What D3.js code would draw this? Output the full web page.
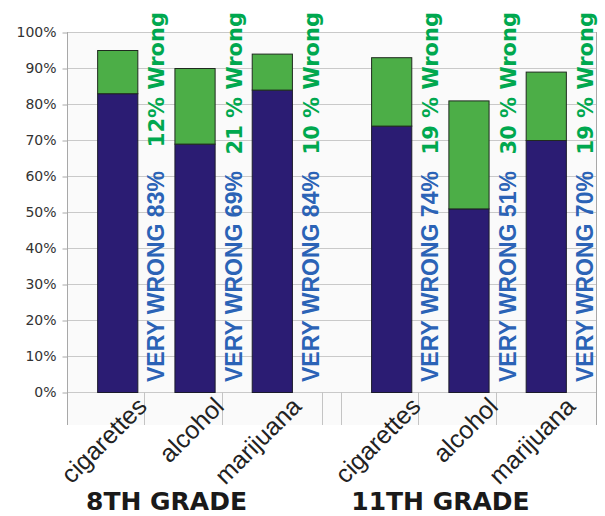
<!DOCTYPE html>
<html>
<head>
<meta charset="utf-8">
<script src="https://cdn.jsdelivr.net/npm/d3@7"></script>
<style>
  html, body { margin: 0; padding: 0; background: #ffffff; }
  svg { display: block; }
</style>
</head>
<body>
<svg id="chart" width="605" height="516"></svg>
<script>
// Share of students rating each substance as wrong, stacked by degree.
const grades = ["8TH GRADE", "11TH GRADE"];
const substances = ["cigarettes", "alcohol", "marijuana"];
const veryWrong8 = [83, 69, 84];
const wrong8 = [12, 21, 10];
const veryWrong11 = [74, 51, 70];
const wrong11 = [19, 30, 19];
// spacing used between the number and "%" in the "Wrong" labels
const wrongGap8 = ["", " ", " "];
const wrongGap11 = [" ", " ", " "];
const yTicks = [0, 10, 20, 30, 40, 50, 60, 70, 80, 90, 100];

const rows = [];
grades.forEach((g, gi) => {
  const vw = gi === 0 ? veryWrong8 : veryWrong11;
  const w = gi === 0 ? wrong8 : wrong11;
  const gap = gi === 0 ? wrongGap8 : wrongGap11;
  substances.forEach((s, si) => {
    rows.push({ grade: g, substance: s, veryWrong: vw[si], wrong: w[si], gap: gap[si] });
  });
});

const svg = d3.select("#chart");
const plot = { left: 67, right: 596, top: 32, bottom: 392, axisFoot: 425 };

const y = d3.scaleLinear().domain([0, 100]).range([plot.bottom, plot.top]);
const xGroup = d3.scaleBand().domain(grades).range([plot.left, plot.right])
  .paddingInner(0.069).paddingOuter(0);
const xSub = d3.scaleBand().domain(substances).range([0, xGroup.bandwidth()])
  .paddingInner(0.48).paddingOuter(0.39);

const barX = d => xGroup(d.grade) + xSub(d.substance);
const bw = xSub.bandwidth();

// plot background
svg.append("rect")
  .attr("x", plot.left).attr("y", plot.top)
  .attr("width", plot.right - plot.left).attr("height", plot.axisFoot - plot.top)
  .attr("fill", "#fafafa");

// horizontal gridlines
svg.append("g").selectAll("line").data(yTicks).join("line")
  .attr("x1", plot.left).attr("x2", plot.right)
  .attr("y1", d => y(d) + 0.5).attr("y2", d => y(d) + 0.5)
  .attr("stroke", "#c9c9c9").attr("stroke-width", 1);

// category separators below the baseline
const seps = [];
grades.forEach(g => {
  substances.forEach(s => seps.push(xGroup(g) + xSub(s) - xSub.step() * xSub.paddingOuter()));
  seps.push(xGroup(g) + xGroup.bandwidth());
});
svg.append("g").selectAll("line").data(seps).join("line")
  .attr("x1", d => Math.round(d) + 0.5).attr("x2", d => Math.round(d) + 0.5)
  .attr("y1", plot.bottom).attr("y2", plot.axisFoot)
  .attr("stroke", "#c4c4c4");

// left axis and right frame lines
[plot.left, plot.right].forEach(xx => {
  svg.append("line")
    .attr("x1", xx + 0.5).attr("x2", xx + 0.5)
    .attr("y1", plot.top).attr("y2", plot.axisFoot)
    .attr("stroke", "#a8a8a8");
});

// y axis
const yAxis = svg.append("g")
  .attr("transform", `translate(${plot.left + 0.5},0.5)`)
  .call(d3.axisLeft(y).tickValues(yTicks).tickFormat(d => d + "%").tickSize(5).tickPadding(6));
yAxis.select(".domain").remove();
yAxis.selectAll(".tick line").attr("stroke", "#a8a8a8");
yAxis.selectAll(".tick text")
  .attr("fill", "#333")
  .style("font-family", "'DejaVu Sans', sans-serif")
  .style("font-size", "14px");

// stacked bars
const bars = svg.append("g");
bars.selectAll("rect.vw").data(rows).join("rect")
  .attr("class", "vw")
  .attr("x", d => barX(d) + 0.5).attr("width", bw)
  .attr("y", d => y(d.veryWrong) + 0.5)
  .attr("height", d => y(0) - y(d.veryWrong))
  .attr("fill", "#2b1c73").attr("stroke", "#1b1b2b").attr("stroke-width", 1);
bars.selectAll("rect.w").data(rows).join("rect")
  .attr("class", "w")
  .attr("x", d => barX(d) + 0.5).attr("width", bw)
  .attr("y", d => y(d.veryWrong + d.wrong) + 0.5)
  .attr("height", d => y(d.veryWrong) - y(d.veryWrong + d.wrong))
  .attr("fill", "#4cae47").attr("stroke", "#1f2a1f").attr("stroke-width", 1);

// value labels beside each bar
const labelX = d => barX(d) + bw + 27;
svg.append("g").selectAll("text").data(rows).join("text")
  .attr("transform", d => `translate(${labelX(d)},${plot.top - 20}) rotate(-90)`)
  .attr("text-anchor", "end")
  .attr("fill", "#00a84f")
  .style("font-family", "'DejaVu Sans', sans-serif")
  .style("font-weight", "bold")
  .style("font-size", "21px")
  .text(d => `${d.wrong}${d.gap}% Wrong`);

svg.append("g").selectAll("text").data(rows).join("text")
  .attr("transform", d => `translate(${labelX(d)},${plot.bottom - 10}) rotate(-90)`)
  .attr("text-anchor", "start")
  .attr("fill", "#2b63b6")
  .style("font-family", "'Liberation Sans', Arial, sans-serif")
  .style("font-weight", "bold")
  .style("font-size", "23px")
  .text(d => `VERY WRONG ${d.veryWrong}%`);

// rotated category names
svg.append("g").selectAll("text").data(rows).join("text")
  .attr("transform", d => `translate(${barX(d) + bw / 2 + 31},${plot.bottom + 16}) rotate(-45)`)
  .attr("text-anchor", "end")
  .attr("fill", "#222")
  .style("font-family", "'Liberation Sans', Arial, sans-serif")
  .style("font-size", "25px")
  .text(d => d.substance);

// grade captions
svg.append("g").selectAll("text").data(grades).join("text")
  .attr("x", g => xGroup(g) + xGroup.bandwidth() / 2 - 28)
  .attr("y", 510)
  .attr("text-anchor", "middle")
  .attr("fill", "#1a1a1a")
  .style("font-family", "'DejaVu Sans', sans-serif")
  .style("font-weight", "bold")
  .style("font-size", "25px")
  .text(g => g);
</script>
</body>
</html>
